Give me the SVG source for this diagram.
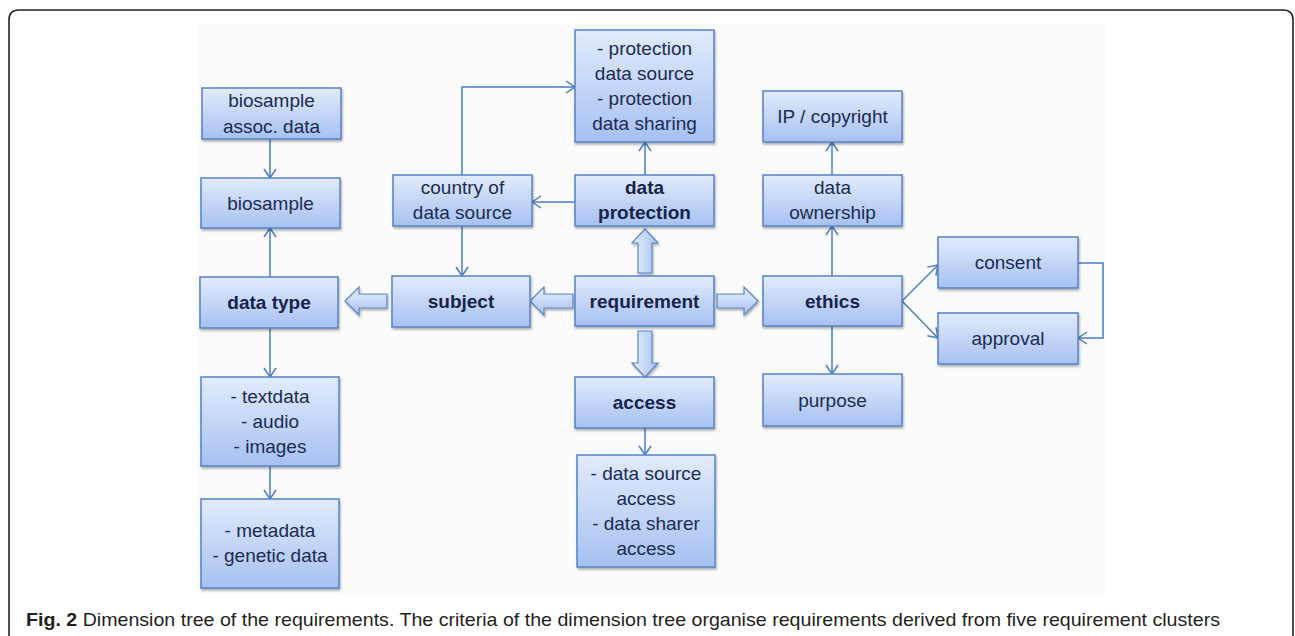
<svg xmlns="http://www.w3.org/2000/svg" width="1295" height="636" viewBox="0 0 1295 636">
<defs>
<linearGradient id="boxg" x1="0" y1="0" x2="0" y2="1">
<stop offset="0" stop-color="#e2ebfc"/>
<stop offset="1" stop-color="#a6c1f1"/>
</linearGradient>
<linearGradient id="arrg" x1="0" y1="0" x2="0" y2="1">
<stop offset="0" stop-color="#e6eefc"/>
<stop offset="1" stop-color="#a9c3f0"/>
</linearGradient>
<linearGradient id="arrgh" x1="0" y1="0" x2="1" y2="0">
<stop offset="0" stop-color="#e6eefc"/>
<stop offset="1" stop-color="#a9c3f0"/>
</linearGradient>
<filter id="sh" x="-10%" y="-10%" width="125%" height="130%">
<feDropShadow dx="1" dy="2" stdDeviation="1.2" flood-color="#000" flood-opacity="0.3"/>
</filter>
<marker id="ah" markerUnits="userSpaceOnUse" markerWidth="12" markerHeight="14" refX="10" refY="7" orient="auto">
<path d="M1,1 L10,7 L1,13" fill="none" stroke="#4a7cc2" stroke-width="1.5"/>
</marker>
</defs>
<style>
.box{fill:url(#boxg);stroke:#5583c6;stroke-width:1.5;filter:url(#sh)}
.t{font-family:"Liberation Sans",Arial,sans-serif;font-size:19px;fill:#1b2b52;text-anchor:middle}
.b{font-weight:bold;fill:#16244a}
.c{fill:none;stroke:#4a7cc2;stroke-width:1.5;marker-end:url(#ah)}
.blk{stroke:#5a86c8;stroke-width:1.2;filter:url(#sh)}
.cap{font-family:"Liberation Sans",Arial,sans-serif;font-size:19px;fill:#231f20}
</style>
<rect width="1295" height="636" fill="#ffffff"/>
<path d="M9,636 V20 Q9,10 19,10 H1283 Q1293,10 1293,20 V636" fill="none" stroke="#222" stroke-width="1.6"/>
<rect x="197" y="24" width="908" height="571" fill="#fbfbfb"/>

<g id="connectors">
<path class="c" d="M270,139 V178"/>
<path class="c" d="M270,277 V228"/>
<path class="c" d="M270,328 V377"/>
<path class="c" d="M270,466 V499"/>
<path class="c" d="M462,175 V87 H575"/>
<path class="c" d="M575,202 H532"/>
<path class="c" d="M462,226 V276"/>
<path class="c" d="M645,175 V142"/>
<path class="c" d="M645,428 V455"/>
<path class="c" d="M832,175 V142"/>
<path class="c" d="M832,276 V226"/>
<path class="c" d="M832,326 V374"/>
<path class="c" d="M902,301 L938,265"/>
<path class="c" d="M902,301 L938,338"/>
<path class="c" d="M1078,263 H1103 V338 H1078"/>
<path class="blk" fill="url(#arrg)" d="M530,301 L544,287 L544,294 L573,294 L573,308 L544,308 L544,315 Z"/>
<path class="blk" fill="url(#arrg)" d="M345,301 L359,287 L359,294 L387,294 L387,308 L359,308 L359,315 Z"/>
<path class="blk" fill="url(#arrg)" d="M758,301 L744,287 L744,294 L717,294 L717,308 L744,308 L744,315 Z"/>
<path class="blk" fill="url(#arrgh)" d="M645,229 L658,243 L652,243 L652,273 L638,273 L638,243 L632,243 Z"/>
<path class="blk" fill="url(#arrgh)" d="M645,377 L632,363 L638,363 L638,331 L652,331 L652,363 L658,363 Z"/>
</g>

<g id="n_bioassoc"><rect class="box" x="202" y="88" width="139" height="51"/>
<text class="t" x="271.5" y="107">biosample</text><text class="t" x="271.5" y="133">assoc. data</text></g>
<g id="n_biosample"><rect class="box" x="201" y="178" width="139" height="50"/>
<text class="t" x="270.5" y="210">biosample</text></g>
<g id="n_datatype"><rect class="box" x="200" y="277" width="138" height="51"/>
<text class="t b" x="269" y="309">data type</text></g>
<g id="n_textdata"><rect class="box" x="201" y="377" width="138" height="89"/>
<text class="t" x="270" y="403">- textdata</text><text class="t" x="270" y="428">- audio</text><text class="t" x="270" y="453">- images</text></g>
<g id="n_metadata"><rect class="box" x="201" y="499" width="138" height="89"/>
<text class="t" x="270" y="537">- metadata</text><text class="t" x="270" y="562">- genetic data</text></g>
<g id="n_country"><rect class="box" x="393" y="175" width="139" height="51"/>
<text class="t" x="462.5" y="194">country of</text><text class="t" x="462.5" y="219">data source</text></g>
<g id="n_subject"><rect class="box" x="392" y="276" width="138" height="51"/>
<text class="t b" x="461" y="308">subject</text></g>
<g id="n_protection"><rect class="box" x="575" y="30" width="139" height="112"/>
<text class="t" x="644.5" y="55">- protection</text><text class="t" x="644.5" y="80">data source</text><text class="t" x="644.5" y="105">- protection</text><text class="t" x="644.5" y="130">data sharing</text></g>
<g id="n_dataprot"><rect class="box" x="575" y="175" width="139" height="51"/>
<text class="t b" x="644.5" y="194">data</text><text class="t b" x="644.5" y="219">protection</text></g>
<g id="n_requirement"><rect class="box" x="575" y="276" width="139" height="50"/>
<text class="t b" x="644.5" y="308">requirement</text></g>
<g id="n_access"><rect class="box" x="575" y="377" width="139" height="51"/>
<text class="t b" x="644.5" y="409">access</text></g>
<g id="n_dsaccess"><rect class="box" x="577" y="455" width="138" height="112"/>
<text class="t" x="646" y="480">- data source</text><text class="t" x="646" y="505">access</text><text class="t" x="646" y="530">- data sharer</text><text class="t" x="646" y="555">access</text></g>
<g id="n_ip"><rect class="box" x="763" y="91" width="139" height="51"/>
<text class="t" x="832.5" y="123">IP / copyright</text></g>
<g id="n_ownership"><rect class="box" x="763" y="175" width="139" height="51"/>
<text class="t" x="832.5" y="194">data</text><text class="t" x="832.5" y="219">ownership</text></g>
<g id="n_ethics"><rect class="box" x="763" y="276" width="139" height="50"/>
<text class="t b" x="832.5" y="308">ethics</text></g>
<g id="n_purpose"><rect class="box" x="763" y="374" width="139" height="52"/>
<text class="t" x="832.5" y="407">purpose</text></g>
<g id="n_consent"><rect class="box" x="938" y="237" width="140" height="51"/>
<text class="t" x="1008" y="269">consent</text></g>
<g id="n_approval"><rect class="box" x="938" y="313" width="140" height="51"/>
<text class="t" x="1008" y="345">approval</text></g>

<text class="cap" x="26" y="626" textLength="1194" lengthAdjust="spacingAndGlyphs"><tspan font-weight="bold">Fig. 2</tspan> Dimension tree of the requirements. The criteria of the dimension tree organise requirements derived from five requirement clusters</text>
</svg>
